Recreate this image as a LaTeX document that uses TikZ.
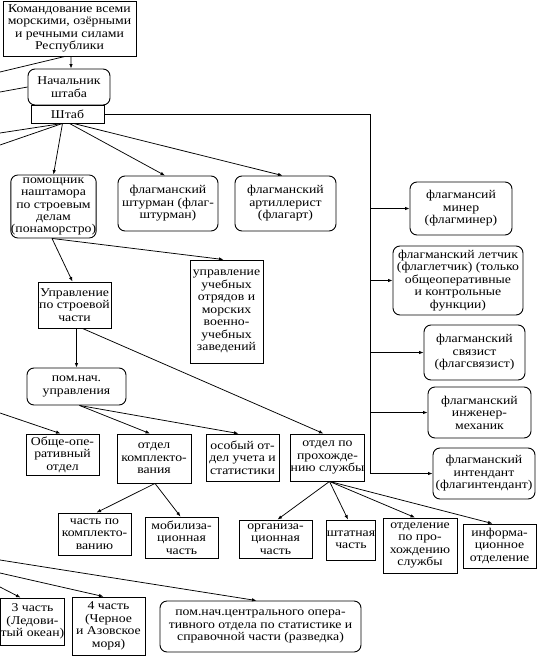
\documentclass[tikz,border=0pt]{standalone}
\usepackage{fontspec}
\setmainfont{Liberation Serif}[FakeStretch=1.15]
\usetikzlibrary{arrows.meta,calc}
\begin{document}
\begin{tikzpicture}[x=1bp,y=-1bp,
  box/.style={draw,line width=0.9bp,rectangle,align=center,inner sep=0pt,
    font=\fontsize{12}{12.5}\selectfont},
  sq/.style={box},
  rd/.style={box,rounded corners=7bp},
  con/.style={line width=0.75bp},
  arr/.style={con,-{Latex[length=4.5bp,width=3.5bp]}}]
\useasboundingbox (0,0) rectangle (538,657);
% nodes
\node[sq,minimum width=133bp,minimum height=55bp] (top) at (69.5,28.5) {Командование всеми\\морскими, озёрными\\и речными силами\\Республики};
\node[rd,minimum width=82bp,minimum height=36bp] (nach) at (69,87) {Начальник\\штаба};
\node[sq,minimum width=73bp,minimum height=18bp] (shtab) at (67.5,114) {Штаб};
\node[rd,minimum width=83bp,minimum height=63bp] (pom) at (53.5,206.5) {помощник\\наштамора\\по строевым\\делам\\(понаморстро)};
\node[rd,minimum width=100bp,minimum height=55bp] (shturm) at (168,203.5) {флагманский\\штурман (флаг-\\штурман)};
\node[rd,minimum width=101bp,minimum height=55bp] (art) at (285.5,203.5) {флагманский\\артиллерист\\(флагарт)};
\node[sq,minimum width=73bp,minimum height=103bp] (uchebn) at (226.5,311.5) {управление\\учебных\\отрядов и\\морских\\военно-\\учебных\\заведений};
\node[sq,minimum width=73bp,minimum height=46bp] (uprstr) at (74.5,305) {Управление\\по строевой\\части};
\node[rd,minimum width=99bp,minimum height=37bp] (pomnach) at (76.5,386.5) {пом.нач.\\управления};
\node[sq,minimum width=73bp,minimum height=41bp] (obshe) at (62.5,454.5) {Обще-опе-\\ративный\\отдел};
\node[sq,minimum width=74bp,minimum height=49bp] (kompl) at (154,458.5) {отдел\\комплекто-\\вания};
\node[sq,minimum width=73bp,minimum height=47bp] (osob) at (242.5,457.5) {особый от-\\дел учета и\\статистики};
\node[sq,minimum width=73bp,minimum height=47bp] (prohozh) at (327.5,457.5) {отдел по\\прохожде-\\нию службы};
\node[sq,minimum width=73bp,minimum height=42bp] (chkompl) at (94.5,534) {часть по\\комплекто-\\ванию};
\node[sq,minimum width=73bp,minimum height=41bp] (mobil) at (181.5,537.5) {мобилиза-\\ционная\\часть};
\node[sq,minimum width=73bp,minimum height=38bp] (org) at (275.5,539) {организа-\\ционная\\часть};
\node[sq,minimum width=48bp,minimum height=40bp] (shtat) at (351,540) {штатная\\часть};
\node[sq,minimum width=74bp,minimum height=55bp] (otdel) at (420,545.5) {отделение\\по про-\\хождению\\службы};
\node[sq,minimum width=73bp,minimum height=44bp] (inform) at (499.5,546) {информа-\\ционное\\отделение};
\node[sq,minimum width=61bp,minimum height=47bp] (ch3) at (32.5,621.5) {3 часть\\(Ледови-\\тый океан)};
\node[sq,minimum width=73bp,minimum height=58bp] (ch4) at (108.5,626) {4 часть\\(Черное\\и Азовское\\моря)};
\node[rd,minimum width=201bp,minimum height=51bp] (pomcentr) at (260.5,626.5) {пом.нач.центрального опера-\\тивного отдела по статистике и\\справочной части (разведка)};
\node[rd,minimum width=102bp,minimum height=53bp] (miner) at (461,208.5) {флагмансий\\минер\\(флагминер)};
\node[rd,minimum width=130bp,minimum height=69bp] (letchik) at (458,280.5) {флагманский летчик\\(флаглетчик) (только\\общеоперативные\\и контрольные\\функции)};
\node[rd,minimum width=101bp,minimum height=55bp] (svyaz) at (474.5,352.5) {флагманский\\связист\\(флагсвязист)};
\node[rd,minimum width=103bp,minimum height=51bp] (inzh) at (479.5,412.5) {флагманский\\инженер-\\механик};
\node[rd,minimum width=102bp,minimum height=51bp] (intend) at (484,473.5) {флагманский\\интендант\\(флагинтендант)};
% free ends at the left edge
\coordinate (L1) at (0,72);
\coordinate (L2) at (0,92);
\coordinate (L3) at (0,133);
\coordinate (L4) at (0,145);
\coordinate (L5) at (0,413);
\coordinate (L6) at (0,560);
\coordinate (L7) at (0,573);
\coordinate (L8) at (0,587);
\coordinate (V1) at (370,114);
\coordinate (V2) at (V1 |- intend.west);
% connectors
\draw[arr] ([xshift=1.5bp]top.south) -- ([xshift=2bp]nach.north);
\draw[con] (L1) -- ([xshift=-4.5bp]top.south);
\draw[con] (L2) -- (nach.west);
\draw[con] (L3) -- ([xshift=-5bp]shtab.south);
\draw[con] (L4) -- ([xshift=-5bp]shtab.south);
\draw[arr] ([xshift=-5bp]shtab.south) -- (pom.north);
\draw[arr] ([xshift=2bp]shtab.south) -- ([xshift=-3bp]shturm.north);
\draw[arr] ([xshift=6bp]shtab.south) -- ([xshift=-3bp]art.north);
\draw[con] (shtab.east) -- (V1) -- (V2);
\draw[arr] (V1 |- miner.west) -- (miner.west);
\draw[arr] (V1 |- letchik.west) -- (letchik.west);
\draw[arr] (V1 |- svyaz.west) -- (svyaz.west);
\draw[arr] (V1 |- inzh.west) -- (inzh.west);
\draw[arr] (V2) -- (intend.west);
\draw[arr] ([xshift=-1.5bp]pom.south) -- ([xshift=-3bp]uchebn.north);
\draw[arr] ([xshift=-1.5bp]pom.south) -- ([xshift=-2bp]uprstr.north);
\draw[arr] ([xshift=2bp]uprstr.south) -- (pomnach.north);
\draw[arr] ([xshift=8bp]uprstr.south) -- ([xshift=-4bp]prohozh.north);
\draw[arr] ([xshift=3bp]pomnach.south) -- ([xshift=-4bp]kompl.north);
\draw[arr] ([xshift=3bp]pomnach.south) -- ([xshift=-4bp]osob.north);
\draw[arr] (L5) -- ([xshift=-2bp]obshe.north);
\draw[arr] ([xshift=1bp]kompl.south) -- ([xshift=2bp]chkompl.north);
\draw[arr] ([xshift=1bp]kompl.south) -- ([xshift=-1bp]mobil.north);
\draw[arr] ([xshift=2bp]prohozh.south) -- ([xshift=2bp]org.north);
\draw[arr] ([xshift=2bp]prohozh.south) -- ([xshift=-3bp]shtat.north);
\draw[arr] ([xshift=2bp]prohozh.south) -- ([xshift=-5bp]otdel.north);
\draw[arr] ([xshift=2bp]prohozh.south) -- ([xshift=-7bp]inform.north);
\draw[arr] (L6) -- ([xshift=-4bp]pomcentr.north);
\draw[arr] (L7) -- ([xshift=-5bp]ch4.north);
\draw[arr] (L8) -- ([xshift=-12bp]ch3.north);
\end{tikzpicture}
\end{document}
